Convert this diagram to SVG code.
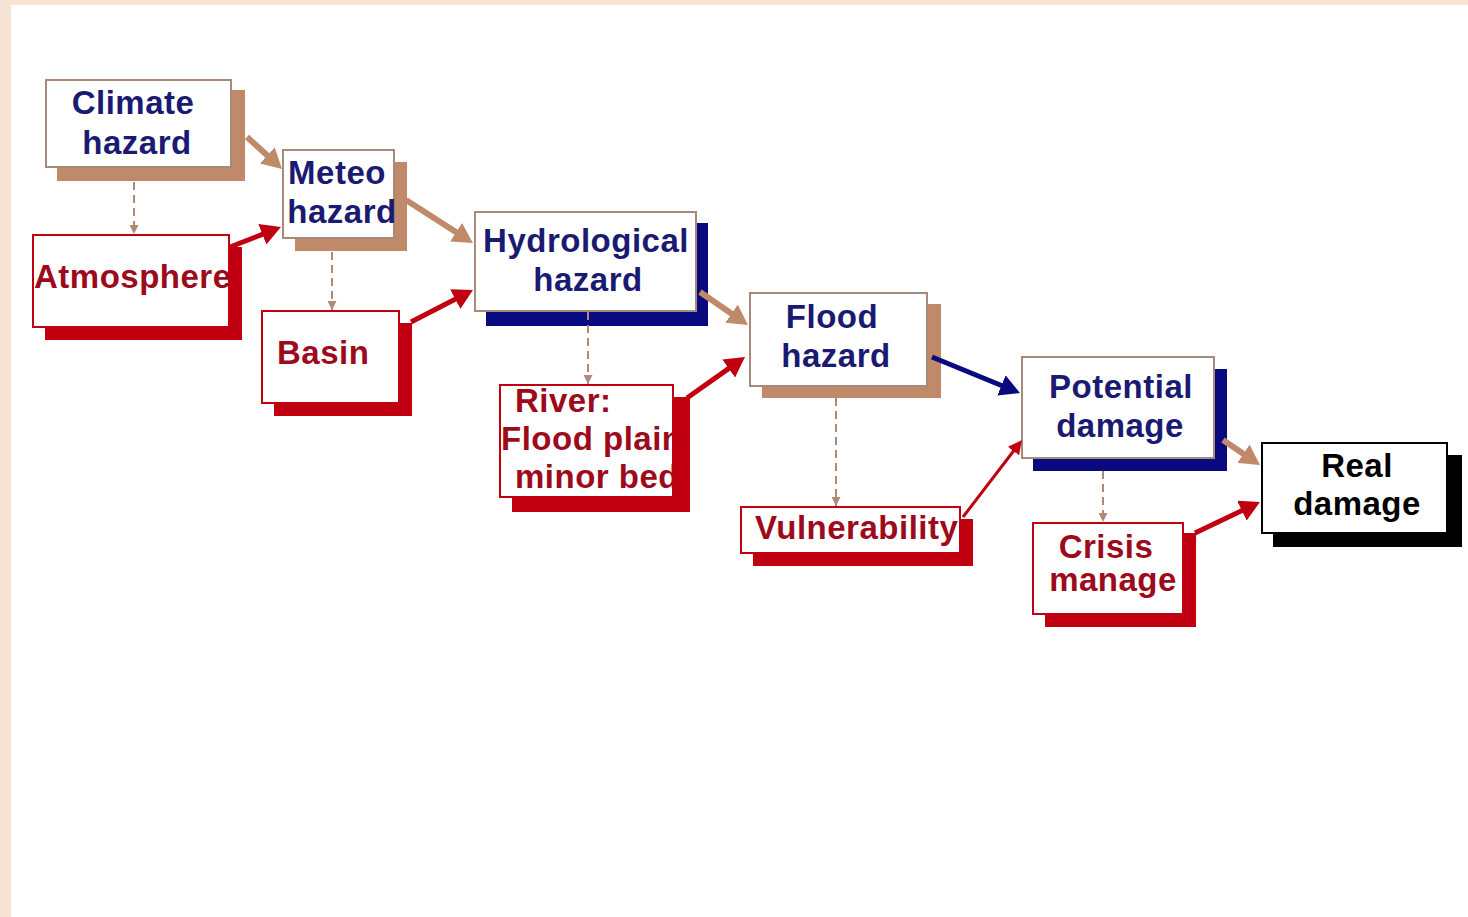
<svg xmlns="http://www.w3.org/2000/svg" width="1468" height="917" viewBox="0 0 1468 917">
<style>
.t{font-family:"Liberation Sans",Arial,sans-serif;font-weight:bold;font-size:33px;letter-spacing:0.5px}
.nv{fill:#1a1a72}
.rd{fill:#9c0a1c}
.bk{fill:#000}
.box{fill:#fff;stroke-width:2}
.bt{stroke:#a88a7a}
.br{stroke:#c00010}
.bb{stroke:#000}
.sh-tan{fill:#c08a6a}
.sh-red{fill:#c00010}
.sh-navy{fill:#0a0a80}
.sh-blk{fill:#000}
.a-tan{stroke:#c08a6a;stroke-width:6;fill:none}
.a-red{stroke:#c00010;stroke-width:5;fill:none}
.a-redthin{stroke:#c00010;stroke-width:3;fill:none}
.a-navy{stroke:#0a0a80;stroke-width:5;fill:none}
.dash{stroke:#b08a78;stroke-width:2;stroke-dasharray:8 5;fill:none}
</style>
<defs>
<marker id="mTan" viewBox="0 0 20 22" refX="2" refY="11" markerWidth="20" markerHeight="22" markerUnits="userSpaceOnUse" orient="auto"><path d="M0,0 L20,11 L0,22 z" fill="#c08a6a"/></marker>
<marker id="mRed" viewBox="0 0 20 22" refX="2" refY="11" markerWidth="20" markerHeight="22" markerUnits="userSpaceOnUse" orient="auto"><path d="M0,0 L20,11 L0,22 z" fill="#c00010"/></marker>
<marker id="mRedS" viewBox="0 0 14 14" refX="2" refY="7" markerWidth="14" markerHeight="14" markerUnits="userSpaceOnUse" orient="auto"><path d="M0,0 L14,7 L0,14 z" fill="#c00010"/></marker>
<marker id="mNavy" viewBox="0 0 20 22" refX="2" refY="11" markerWidth="20" markerHeight="22" markerUnits="userSpaceOnUse" orient="auto"><path d="M0,0 L20,11 L0,22 z" fill="#0a0a80"/></marker>
<marker id="mDash" viewBox="0 0 10 10" refX="10" refY="5" markerWidth="9" markerHeight="9" markerUnits="userSpaceOnUse" orient="auto"><path d="M0,0 L10,5 L0,10 z" fill="#b08a78"/></marker>
<clipPath id="cAtm"><rect x="33" y="235" width="196" height="92"/></clipPath>
<clipPath id="cRiv"><rect x="500" y="385" width="173" height="112"/></clipPath>
</defs>
<rect x="0" y="0" width="1468" height="917" fill="#fff"/>
<rect x="0" y="0" width="1468" height="5" fill="#f8e4d6"/>
<rect x="0" y="0" width="11" height="917" fill="#f8e4d6"/>

<g id="climate">
<rect class="sh-tan" x="57" y="90" width="188" height="91"/>
<rect class="box bt" x="46" y="80" width="185" height="87"/>
<text class="t nv" x="133" y="114" text-anchor="middle">Climate</text>
<text class="t nv" x="137" y="154" text-anchor="middle">hazard</text>
</g>
<g id="meteo">
<rect class="sh-tan" x="295" y="162" width="112" height="89"/>
<rect class="box bt" x="283" y="150" width="111" height="88"/>
<text class="t nv" x="337" y="184" text-anchor="middle">Meteo</text>
<text class="t nv" x="342" y="223" text-anchor="middle">hazard</text>
</g>
<g id="atmosphere">
<rect class="sh-red" x="45" y="247" width="197" height="93"/>
<rect class="box br" x="33" y="235" width="196" height="92"/>
<text class="t rd" x="34" y="288" clip-path="url(#cAtm)">Atmosphere</text>
</g>
<g id="basin">
<rect class="sh-red" x="274" y="323" width="138" height="93"/>
<rect class="box br" x="262" y="311" width="137" height="92"/>
<text class="t rd" x="277" y="364">Basin</text>
</g>
<g id="hydrological">
<rect class="sh-navy" x="486" y="223" width="222" height="103"/>
<rect class="box bt" x="475" y="212" width="221" height="99"/>
<text class="t nv" x="586" y="252" text-anchor="middle">Hydrological</text>
<text class="t nv" x="588" y="291" text-anchor="middle">hazard</text>
</g>
<g id="river">
<rect class="sh-red" x="512" y="397" width="178" height="115"/>
<rect class="box br" x="500" y="385" width="173" height="112"/>
<g clip-path="url(#cRiv)">
<text class="t rd" x="515" y="412">River:</text>
<text class="t rd" x="501" y="450">Flood plain</text>
<text class="t rd" x="515" y="488">minor bed</text>
</g>
</g>
<g id="flood">
<rect class="sh-tan" x="762" y="304" width="179" height="94"/>
<rect class="box bt" x="750" y="293" width="177" height="93"/>
<text class="t nv" x="832" y="328" text-anchor="middle">Flood</text>
<text class="t nv" x="836" y="367" text-anchor="middle">hazard</text>
</g>
<g id="vulnerability">
<rect class="sh-red" x="753" y="519" width="220" height="47"/>
<rect class="box br" x="741" y="507" width="219" height="46"/>
<text class="t rd" x="755" y="539">Vulnerability</text>
</g>
<g id="potential">
<rect class="sh-navy" x="1033" y="369" width="194" height="102"/>
<rect class="box bt" x="1022" y="357" width="192" height="101"/>
<text class="t nv" x="1121" y="398" text-anchor="middle">Potential</text>
<text class="t nv" x="1120" y="437" text-anchor="middle">damage</text>
</g>
<g id="crisis">
<rect class="sh-red" x="1045" y="533" width="151" height="94"/>
<rect class="box br" x="1033" y="523" width="150" height="91"/>
<text class="t rd" x="1106" y="558" text-anchor="middle">Crisis</text>
<text class="t rd" x="1113" y="591" text-anchor="middle">manage</text>
</g>
<g id="real">
<rect class="sh-blk" x="1273" y="455" width="189" height="92"/>
<rect class="box bb" x="1262" y="443" width="185" height="90"/>
<text class="t bk" x="1357" y="477" text-anchor="middle">Real</text>
<text class="t bk" x="1357" y="515" text-anchor="middle">damage</text>
</g>

<g id="connectors">
<line class="a-tan" x1="247" y1="137" x2="268.7" y2="156.8" marker-end="url(#mTan)"/>
<line class="a-red" x1="230" y1="247" x2="264.2" y2="233.6" marker-end="url(#mRed)"/>
<line class="a-tan" x1="406" y1="200" x2="457.8" y2="233.3" marker-end="url(#mTan)"/>
<line class="a-red" x1="411" y1="322" x2="457" y2="298.2" marker-end="url(#mRed)"/>
<line class="a-tan" x1="700" y1="292" x2="733.2" y2="314.8" marker-end="url(#mTan)"/>
<line class="a-red" x1="687" y1="398" x2="730.3" y2="367.4" marker-end="url(#mRed)"/>
<line class="a-navy" x1="932" y1="357" x2="1003.3" y2="386.2" marker-end="url(#mNavy)"/>
<line class="a-redthin" x1="963" y1="517" x2="1014.7" y2="449.5" marker-end="url(#mRedS)"/>
<line class="a-tan" x1="1223" y1="440" x2="1245.1" y2="454.9" marker-end="url(#mTan)"/>
<line class="a-red" x1="1195" y1="533" x2="1243.7" y2="509.8" marker-end="url(#mRed)"/>
<line class="dash" x1="134" y1="182" x2="134" y2="234" marker-end="url(#mDash)"/>
<line class="dash" x1="332" y1="252" x2="332" y2="310" marker-end="url(#mDash)"/>
<line class="dash" x1="588" y1="312" x2="588" y2="384" marker-end="url(#mDash)"/>
<line class="dash" x1="836" y1="398" x2="836" y2="506" marker-end="url(#mDash)"/>
<line class="dash" x1="1103" y1="471" x2="1103" y2="522" marker-end="url(#mDash)"/>
</g>
</svg>
